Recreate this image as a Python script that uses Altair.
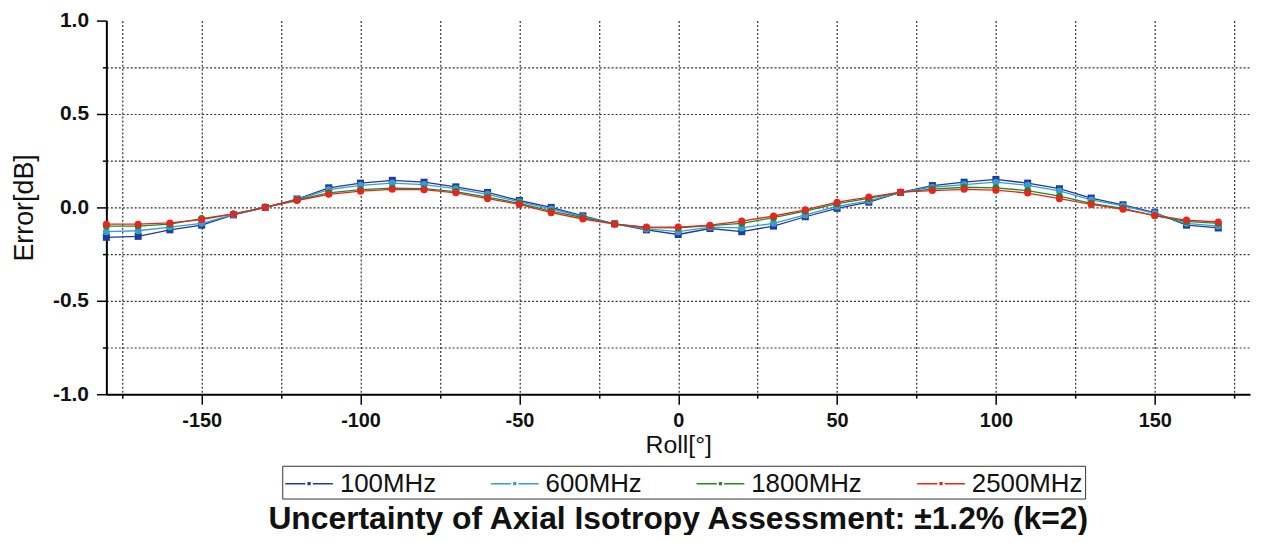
import altair as alt
import pandas as pd

roll = list(range(-180, 180, 10))

err_100 = [-0.160, -0.155, -0.120, -0.095, -0.040, 0.000, 0.045, 0.105, 0.130, 0.145,
           0.135, 0.110, 0.080, 0.037, 0.000, -0.045, -0.088, -0.120, -0.145, -0.113,
           -0.130, -0.100, -0.050, -0.005, 0.028, 0.080, 0.117, 0.135, 0.150, 0.130,
           0.100, 0.050, 0.014, -0.028, -0.095, -0.110]
err_600 = [-0.130, -0.125, -0.105, -0.085, -0.038, 0.000, 0.042, 0.095, 0.118, 0.130,
           0.122, 0.100, 0.070, 0.030, -0.008, -0.050, -0.088, -0.115, -0.130, -0.105,
           -0.110, -0.085, -0.040, 0.005, 0.035, 0.080, 0.108, 0.122, 0.135, 0.118,
           0.088, 0.040, 0.008, -0.032, -0.085, -0.100]
err_1800 = [-0.100, -0.100, -0.090, -0.060, -0.035, 0.002, 0.040, 0.078, 0.095, 0.103,
            0.100, 0.085, 0.055, 0.022, -0.020, -0.055, -0.088, -0.108, -0.110, -0.098,
            -0.085, -0.055, -0.020, 0.020, 0.048, 0.080, 0.098, 0.108, 0.105, 0.090,
            0.060, 0.022, -0.005, -0.045, -0.075, -0.085]
err_2500 = [-0.090, -0.090, -0.083, -0.065, -0.035, 0.000, 0.037, 0.070, 0.087, 0.097,
            0.095, 0.078, 0.047, 0.016, -0.028, -0.062, -0.090, -0.105, -0.105, -0.095,
            -0.073, -0.046, -0.013, 0.028, 0.055, 0.082, 0.090, 0.097, 0.092, 0.077,
            0.047, 0.016, -0.010, -0.043, -0.068, -0.078]

series_names = ["100MHz", "600MHz", "1800MHz", "2500MHz"]
series_colors = ["#1f3c99", "#3b9ad9", "#1e8c1e", "#e8251d"]

x_grid_values = list(range(-175, 180, 25))
y_grid_values = [-1.0, -0.75, -0.5, -0.25, 0.0, 0.25, 0.5, 0.75, 1.0]

title_text = "Uncertainty of Axial Isotropy Assessment: \u00b11.2% (k=2)"

rows = []
for name, vals in zip(series_names, [err_100, err_600, err_1800, err_2500]):
    for i, (r, v) in enumerate(zip(roll, vals)):
        rows.append({"Roll": r, "Error": v, "Series": name, "order": i})
df = pd.DataFrame(rows)

FONT = "Liberation Sans"
GRID = "#333"

x_enc = alt.X(
    "Roll:Q",
    scale=alt.Scale(domain=[-180, 180], nice=False, zero=False),
    axis=alt.Axis(
        values=x_grid_values,
        labelExpr="datum.value % 50 === 0 ? '' + datum.value : ''",
        tickSize={"condition": {"test": "datum.value % 50 === 0", "value": 10}, "value": 4},
        tickColor="#000",
        tickWidth=1.5,
        grid=True,
        gridDash=[2, 2],
        gridColor=GRID,
        gridWidth=1.2,
        domainColor="#000",
        domainWidth=2,
        labelFont=FONT,
        labelFontSize=20,
        labelFontWeight="bold",
        labelColor="#111",
        labelPadding=6,
        labelOverlap=False,
        title="Roll[\u00b0]",
        titleFont=FONT,
        titleFontSize=25,
        titleFontWeight="normal",
        titleColor="#111",
        titlePadding=3,
    ),
)

y_enc = alt.Y(
    "Error:Q",
    scale=alt.Scale(domain=[-1, 1], nice=False, zero=False),
    axis=alt.Axis(
        values=y_grid_values,
        labelExpr="abs(datum.value*2 - round(datum.value*2)) < 0.000001 ? (datum.value < 0 ? '-' + format(-datum.value, '.1f') : format(datum.value, '.1f')) : ''",
        tickSize={"condition": {"test": "abs(datum.value*2 - round(datum.value*2)) < 0.000001", "value": 10}, "value": 4},
        tickColor="#000",
        tickWidth=1.5,
        grid=True,
        gridDash=[2, 2],
        gridColor=GRID,
        gridWidth=1.2,
        gridOpacity={"condition": {"test": "abs(datum.value) > 0.99", "value": 0}, "value": 1},
        domainColor="#000",
        domainWidth=2,
        labelFont=FONT,
        labelFontSize=21,
        labelFontWeight="bold",
        labelColor="#111",
        labelPadding=8,
        labelOverlap=False,
        title="Error[dB]",
        titleFont=FONT,
        titleFontSize=27,
        titleFontWeight="normal",
        titleColor="#111",
        titlePadding=14,
    ),
)

# line - dot - line legend glyph, drawn mostly to the right of the reserved symbol box
symbol_path = "M-1,0H0.35M0.85,0H2.2M0.54,-0.06H0.66V0.06H0.54Z"

color_enc = alt.Color(
    "Series:N",
    scale=alt.Scale(domain=series_names, range=series_colors),
    legend=alt.Legend(
        orient="none",
        legendX=177,
        legendY=448,
        direction="horizontal",
        title=None,
        labelFont=FONT,
        labelFontSize=26,
        labelColor="#111",
        labelLimit=400,
        labelOffset=24,
        symbolType=symbol_path,
        symbolSize=900,
        symbolStrokeWidth=1.5,
        columnPadding=52,
        strokeColor="#333",
        padding=2,
        fillColor="white",
    ),
)

lines = alt.Chart(df).mark_line(strokeWidth=1.3).encode(
    x=x_enc, y=y_enc, color=color_enc, order="order:Q"
)

squares = alt.Chart(df).transform_filter(
    alt.datum.Series == "100MHz"
).mark_point(filled=True, opacity=1, shape="square", size=50).encode(
    x=x_enc, y=y_enc, color=color_enc
)

circles = alt.Chart(df).transform_filter(
    alt.datum.Series != "100MHz"
).mark_point(filled=True, opacity=1, shape="circle", size=50).encode(
    x=x_enc, y=y_enc, color=color_enc
)

chart = alt.layer(lines, squares, circles).properties(
    width=1151,
    height=376,
    title=alt.TitleParams(
        text=title_text,
        orient="bottom",
        anchor="middle",
        font=FONT,
        fontSize=32,
        fontWeight="bold",
        color="#111",
        offset=5,
    ),
    autosize=alt.AutoSizeParams(type="none"),
    padding={"left": 99, "top": 11, "right": 8, "bottom": 140},
).configure_view(stroke=None)

chart.save("out.html", embed_options={"renderer": "svg", "actions": False})
